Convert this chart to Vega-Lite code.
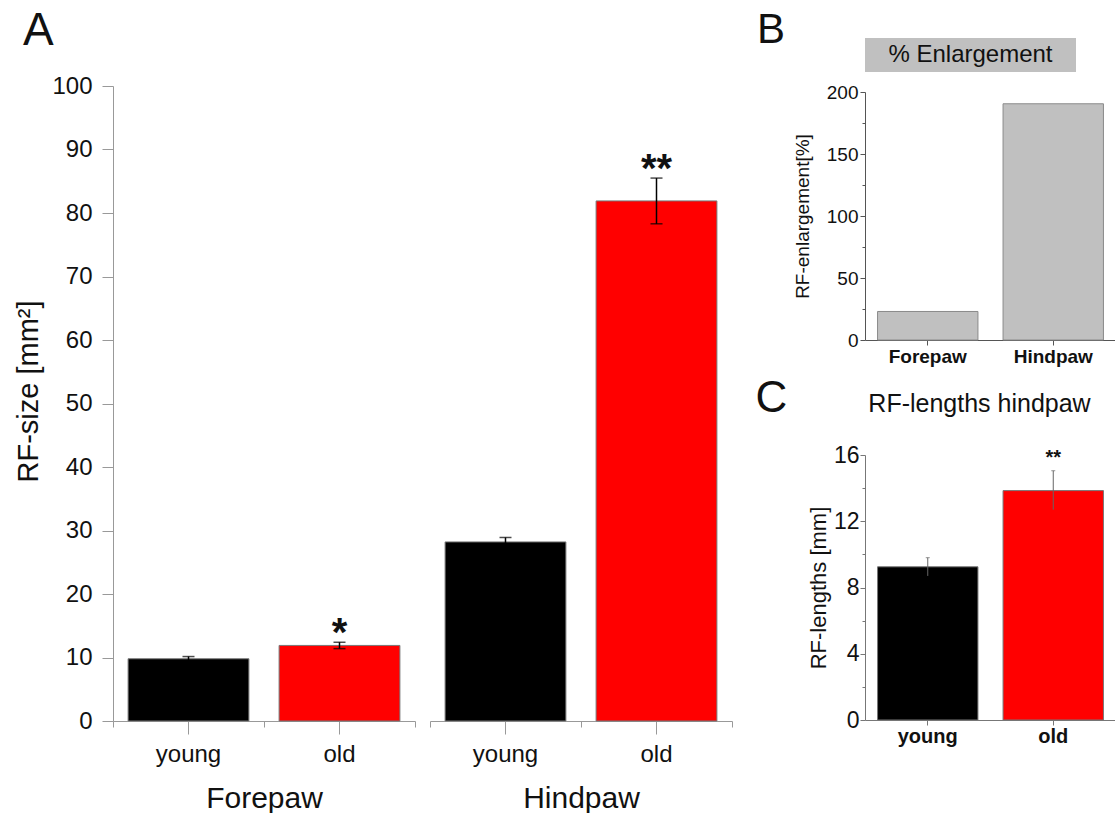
{
  "$schema": "https://vega.github.io/schema/vega-lite/v6.json",
  "padding": {"left": 14, "top": 8, "right": 0, "bottom": 0},
  "background": "white",
  "config": {
    "font": "Liberation Sans",
    "view": {"stroke": null},
    "axis": {"grid": false, "labelColor": "#111", "titleColor": "#111", "titleFontWeight": "normal"},
    "title": {"color": "#111", "fontWeight": "normal"}
  },
  "datasets": {
    "rf": [
      {"paw": "Forepaw", "age": "young", "size": 9.8, "lo": 9.45, "hi": 10.15, "sig": ""},
      {"paw": "Forepaw", "age": "old", "size": 11.9, "lo": 11.4, "hi": 12.4, "sig": "*"},
      {"paw": "Hindpaw", "age": "young", "size": 28.2, "lo": 27.5, "hi": 28.9, "sig": ""},
      {"paw": "Hindpaw", "age": "old", "size": 81.9, "lo": 78.3, "hi": 85.5, "sig": "**"}
    ],
    "enl": [
      {"paw": "Forepaw", "pct": 23},
      {"paw": "Hindpaw", "pct": 190.5}
    ],
    "len": [
      {"age": "young", "len": 9.25, "lo": 8.7, "hi": 9.8, "sig": ""},
      {"age": "old", "len": 13.85, "lo": 12.7, "hi": 15.05, "sig": "**"}
    ]
  },
  "spacing": 22,
  "hconcat": [
    {
      "title": {"text": "A", "anchor": "start", "fontSize": 46, "dx": 8, "offset": -17},
      "spacing": 16,
      "vconcat": [
        {"width": 10, "height": 20, "data": {"values": [{"t": ""}]}, "mark": "text", "encoding": {"text": {"field": "t"}}},
        {
          "spacing": 13,
          "hconcat": [
            {
              "width": 302, "height": 635,
              "data": {"name": "rf"},
              "transform": [{"filter": "datum.paw === 'Forepaw'"}],
              "resolve": {"axis": {"x": "independent"}},
              "layer": [
                {
                  "encoding": {
                    "x": {"field": "age", "type": "nominal", "sort": ["young", "old"], "scale": {"paddingInner": 0, "paddingOuter": 0},
                      "axis": {"orient": "bottom", "title": "Forepaw", "titleFontSize": 30, "titlePadding": 17, "labelFontSize": 24, "labelAngle": 0, "labelPadding": 8, "tickSize": 13, "tickColor": "#999", "domainColor": "#999"}},
                    "y": {"type": "quantitative", "scale": {"domain": [0, 100], "nice": false},
                      "axis": {"title": "RF-size [mm²]", "titleFontSize": 29, "titlePadding": 8, "titleY": 305, "values": [0,5,10,15,20,25,30,35,40,45,50,55,60,65,70,75,80,85,90,95,100],
                        "labelExpr": "datum.value % 10 === 0 ? datum.label : ''", "labelFontSize": 24, "labelPadding": 10, "labelOverlap": false,
                        "tickSize": {"condition": {"test": "datum.value % 10 === 0", "value": 11}, "value": 6}, "tickColor": "#999", "domainColor": "#999"}}
                  },
                  "layer": [
                    {"mark": {"type": "bar", "width": {"band": 0.8}, "stroke": "#777", "strokeWidth": 1},
                     "encoding": {
                       "y": {"field": "size"},
                       "color": {"field": "age", "type": "nominal", "scale": {"domain": ["young", "old"], "range": ["#000000", "#ff0000"]}, "legend": null}}},
                    {"mark": {"type": "tick", "color": "#000", "size": 12, "thickness": 1.5}, "encoding": {"y": {"field": "hi"}}},
                    {"mark": {"type": "tick", "color": "#000", "size": 12, "thickness": 1.5}, "encoding": {"y": {"field": "lo"}}},
                    {"mark": {"type": "text", "fontSize": 40, "fontWeight": "bold", "baseline": "alphabetic", "dy": 4, "color": "#111"}, "encoding": {"y": {"field": "hi"}, "text": {"field": "sig"}}}
                  ]
                },
                {
                  "mark": {"type": "rule", "color": "#000", "strokeWidth": 1.5},
                  "encoding": {
                    "x": {"field": "age", "type": "nominal", "sort": ["young", "old"], "axis": {"orient": "bottom", "tickBand": "extent", "labels": false, "domain": false, "tickSize": 6, "tickColor": "#999", "title": null}},
                    "y": {"field": "lo", "type": "quantitative"},
                    "y2": {"field": "hi"}
                  }
                }
              ]
            },
            {
              "width": 302, "height": 635,
              "data": {"name": "rf"},
              "transform": [{"filter": "datum.paw === 'Hindpaw'"}],
              "resolve": {"axis": {"x": "independent"}},
              "layer": [
                {
                  "encoding": {
                    "x": {"field": "age", "type": "nominal", "sort": ["young", "old"], "scale": {"paddingInner": 0, "paddingOuter": 0},
                      "axis": {"orient": "bottom", "title": "Hindpaw", "titleFontSize": 30, "titlePadding": 17, "labelFontSize": 24, "labelAngle": 0, "labelPadding": 8, "tickSize": 13, "tickColor": "#999", "domainColor": "#999"}},
                    "y": {"type": "quantitative", "scale": {"domain": [0, 100], "nice": false}, "axis": null}
                  },
                  "layer": [
                    {"mark": {"type": "bar", "width": {"band": 0.8}, "stroke": "#777", "strokeWidth": 1},
                     "encoding": {
                       "y": {"field": "size"},
                       "color": {"field": "age", "type": "nominal", "scale": {"domain": ["young", "old"], "range": ["#000000", "#ff0000"]}, "legend": null}}},
                    {"mark": {"type": "tick", "color": "#000", "size": 12, "thickness": 1.5}, "encoding": {"y": {"field": "hi"}}},
                    {"mark": {"type": "tick", "color": "#000", "size": 12, "thickness": 1.5}, "encoding": {"y": {"field": "lo"}}},
                    {"mark": {"type": "text", "fontSize": 40, "fontWeight": "bold", "baseline": "alphabetic", "dy": 4, "color": "#111"}, "encoding": {"y": {"field": "hi"}, "text": {"field": "sig"}}}
                  ]
                },
                {
                  "mark": {"type": "rule", "color": "#000", "strokeWidth": 1.5},
                  "encoding": {
                    "x": {"field": "age", "type": "nominal", "sort": ["young", "old"], "axis": {"orient": "bottom", "tickBand": "extent", "labels": false, "domain": false, "tickSize": 6, "tickColor": "#999", "title": null}},
                    "y": {"field": "lo", "type": "quantitative", "axis": null},
                    "y2": {"field": "hi"}
                  }
                }
              ]
            }
          ]
        }
      ]
    },
    {
      "spacing": 11,
      "vconcat": [
        {
          "width": 211, "height": 34,
          "title": {"text": "B", "anchor": "start", "frame": "group", "fontSize": 42, "dx": -108, "offset": -14},
          "view": {"fill": "#c0c0c0", "stroke": null},
          "data": {"values": [{"t": "% Enlargement"}]},
          "mark": {"type": "text", "fontSize": 24, "color": "#111"},
          "encoding": {"text": {"field": "t"}}
        },
        {
          "width": 251, "height": 248,
          "data": {"name": "enl"},
          "mark": {"type": "bar", "width": {"band": 0.8}, "fill": "#c0c0c0", "stroke": "#8a8a8a", "strokeWidth": 1},
          "encoding": {
            "x": {"field": "paw", "type": "nominal", "sort": ["Forepaw", "Hindpaw"], "scale": {"paddingInner": 0, "paddingOuter": 0},
              "axis": {"title": null, "labelAngle": 0, "labelFontSize": 19, "labelFontWeight": "bold", "labelPadding": 2, "tickSize": 5, "tickColor": "#555", "domainColor": "#555"}},
            "y": {"field": "pct", "type": "quantitative", "scale": {"domain": [0, 200], "nice": false},
              "axis": {"title": "RF-enlargement[%]", "titleFontSize": 19, "titlePadding": 14, "values": [0,25,50,75,100,125,150,175,200],
                "labelExpr": "datum.value % 50 === 0 ? datum.label : ''", "labelFontSize": 19, "labelPadding": 2, "labelOverlap": false,
                "tickSize": {"condition": {"test": "datum.value % 50 === 0", "value": 5}, "value": 3}, "tickColor": "#555", "domainColor": "#555"}}
          }
        },
        {
          "title": {"text": "C", "anchor": "start", "fontSize": 44, "dx": -52, "offset": -29},
          "vconcat": [
            {
              "width": 251, "height": 265,
              "data": {"name": "len"},
              "title": {"text": "RF-lengths hindpaw", "fontSize": 25, "frame": "group", "anchor": "middle", "offset": 27, "dx": -11},
              "encoding": {
                "x": {"field": "age", "type": "nominal", "sort": ["young", "old"], "scale": {"paddingInner": 0, "paddingOuter": 0},
                  "axis": {"title": null, "labelAngle": 0, "labelFontSize": 20, "labelFontWeight": "bold", "labelPadding": 1, "tickSize": 5, "tickColor": "#777", "domainColor": "#777"}},
                "y": {"type": "quantitative", "scale": {"domain": [0, 16], "nice": false},
                  "axis": {"title": "RF-lengths [mm]", "titleFontSize": 22, "titlePadding": 3, "values": [0,2,4,6,8,10,12,14,16],
                    "labelExpr": "datum.value % 4 === 0 ? datum.label : ''", "labelFontSize": 23, "labelPadding": 1, "labelOverlap": false,
                    "tickSize": {"condition": {"test": "datum.value % 4 === 0", "value": 5}, "value": 3}, "tickColor": "#777", "domainColor": "#777"}}
              },
              "layer": [
                {"mark": {"type": "bar", "width": {"band": 0.8}, "stroke": "#777", "strokeWidth": 1},
                 "encoding": {
                   "y": {"field": "len"},
                   "color": {"field": "age", "type": "nominal", "scale": {"domain": ["young", "old"], "range": ["#000000", "#ff0000"]}, "legend": null}}},
                {"mark": {"type": "rule", "color": "#666", "strokeWidth": 1}, "encoding": {"y": {"field": "lo"}, "y2": {"field": "hi"}}},
                {"mark": {"type": "tick", "color": "#666", "size": 4, "thickness": 1}, "encoding": {"y": {"field": "hi"}}},
                {"mark": {"type": "text", "fontSize": 20, "fontWeight": "bold", "baseline": "alphabetic", "dy": -7, "color": "#111"}, "encoding": {"y": {"field": "hi"}, "text": {"field": "sig"}}}
              ]
            }
          ]
        }
      ]
    }
  ]
}
